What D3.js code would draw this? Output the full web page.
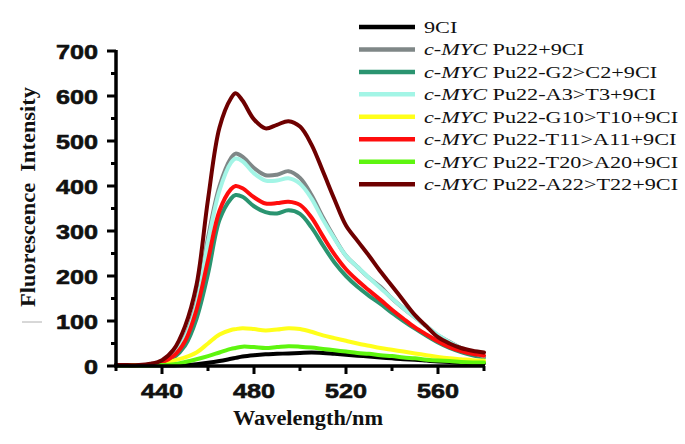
<!DOCTYPE html>
<html><head><meta charset="utf-8">
<script src="https://cdn.jsdelivr.net/npm/d3@7"></script>
<style>body{margin:0;background:#fff}svg{display:block}</style>
</head><body>
<svg id="c" width="685" height="444"></svg>
<script>
const wavelengths = [420,425,430,435,440,445,450,455,460,465,470,472,475,480,485,490,495,500,505,510,515,520,525,530,535,540,545,550,555,560,565,570,575,580];
const s9CI    = [1,1,1,1,1,1,2,4,7,11,16,18,21,24,26,27,28,29,30,29,27,25,23,21,19,17,15,14,12,10,9,7,6,6];
const sPu22   = [2,2,2,3,8,25,65,140,285,400,462,472,465,440,424,425,433,418,380,330,285,245,220,196,176,150,128,108,88,68,54,40,30,21];
const sG2C2   = [2,2,2,3,6,18,45,105,205,325,372,380,376,355,342,339,346,338,308,268,230,200,176,156,138,118,100,83,67,52,40,31,24,19];
const sA3T3   = [2,2,2,3,8,24,62,135,275,390,452,461,455,428,412,412,417,405,372,325,283,245,220,196,173,150,128,108,88,69,53,40,30,22];
const sG10T10 = [2,2,2,3,7,12,19,30,50,70,80,82,84,82,79,81,84,82,76,68,62,56,50,45,40,36,32,28,24,20,17,15,13,12];
const sT11A11 = [2,2,2,3,8,22,55,125,235,345,393,400,395,375,361,362,365,358,330,288,248,215,190,168,147,125,105,86,70,55,42,33,27,23];
const sT20A20 = [1,1,1,1,2,4,9,15,22,30,38,40,43,42,40,42,44,43,41,38,35,32,29,27,24,22,19,17,14,12,11,9,8,8];
const sA22T22 = [2,2,2,5,13,36,88,180,370,530,595,606,590,548,528,536,544,532,492,432,370,312,278,245,210,178,145,113,88,64,50,40,34,30];

const seriesNames = ["9CI","Pu22+9CI","Pu22-G2>C2+9CI","Pu22-A3>T3+9CI","Pu22-G10>T10+9CI","Pu22-T11>A11+9CI","Pu22-T20>A20+9CI","Pu22-A22>T22+9CI"];
const seriesItalic = [false,true,true,true,true,true,true,true];
const seriesColors = ["#000000","#7f8787","#2a9470","#a3f5e6","#ffff1a","#ff0d0d","#5ef50f","#6e0000"];
const seriesValues = [s9CI,sPu22,sG2C2,sA3T3,sG10T10,sT11A11,sT20A20,sA22T22];

const xMajorTicks = [440,480,520,560];
const xMinorTicks = [420,460,500,540,580];
const yMajorTicks = [0,100,200,300,400,500,600,700];
const yMinorTicks = [50,150,250,350,450,550,650];

const svg = d3.select("#c");
const x = d3.scaleLinear().domain([420,580]).range([116,484]);
const y = d3.scaleLinear().domain([0,700]).range([366,51]);

// lines
const line = d3.line().x((d,i)=>x(wavelengths[i])).y(d=>y(d)).curve(d3.curveCatmullRom.alpha(0.5));
seriesValues.forEach((vals,k)=>{
  svg.append("path").attr("d",line(vals)).attr("fill","none")
    .attr("stroke",seriesColors[k]).attr("stroke-width",4).attr("stroke-linejoin","round").attr("stroke-linecap","round");
});

// y axis
const yAxis = svg.append("g");
yAxis.append("line").attr("x1",116).attr("x2",116).attr("y1",y(700)-1).attr("y2",y(0)+1.5).attr("stroke","#000").attr("stroke-width",3.5);
yMajorTicks.forEach(v=>{
  yAxis.append("line").attr("x1",107).attr("x2",116).attr("y1",y(v)).attr("y2",y(v)).attr("stroke","#000").attr("stroke-width",3);
  yAxis.append("text").attr("transform",`translate(98,${y(v)+7.5}) scale(1.2,1)`).attr("text-anchor","end")
    .attr("font-family","Liberation Sans, Arial, sans-serif").attr("font-weight","bold").attr("font-size",21)
    .attr("fill","#111").attr("stroke","#111").attr("stroke-width",0.6).text(v);
});
yMinorTicks.forEach(v=>{
  yAxis.append("line").attr("x1",111).attr("x2",116).attr("y1",y(v)).attr("y2",y(v)).attr("stroke","#000").attr("stroke-width",3);
});

// x axis
const xAxis = svg.append("g");
xAxis.append("line").attr("x1",114.5).attr("x2",x(580)+1).attr("y1",366).attr("y2",366).attr("stroke","#000").attr("stroke-width",3.5);
xMajorTicks.forEach(v=>{
  xAxis.append("line").attr("x1",x(v)).attr("x2",x(v)).attr("y1",366).attr("y2",374).attr("stroke","#000").attr("stroke-width",3);
  xAxis.append("text").attr("transform",`translate(${x(v)},398) scale(1.2,1)`).attr("text-anchor","middle")
    .attr("font-family","Liberation Sans, Arial, sans-serif").attr("font-weight","bold").attr("font-size",21)
    .attr("fill","#111").attr("stroke","#111").attr("stroke-width",0.6).text(v);
});
xMinorTicks.forEach(v=>{
  xAxis.append("line").attr("x1",x(v)).attr("x2",x(v)).attr("y1",366).attr("y2",371).attr("stroke","#000").attr("stroke-width",3);
});

// axis titles
svg.append("text").attr("transform","translate(35,197) rotate(-90)").attr("text-anchor","middle")
  .attr("font-family","Liberation Serif, Times New Roman, serif").attr("font-weight","bold").attr("font-size",20)
  .attr("textLength",220).attr("lengthAdjust","spacingAndGlyphs").attr("fill","#111").attr("xml:space","preserve").text("Fluorescence  Intensity");
svg.append("text").attr("x",308).attr("y",425).attr("text-anchor","middle")
  .attr("font-family","Liberation Serif, Times New Roman, serif").attr("font-weight","bold").attr("font-size",21)
  .attr("textLength",150).attr("lengthAdjust","spacingAndGlyphs").attr("fill","#111").text("Wavelength/nm");

// small grey mark
svg.append("line").attr("x1",22).attr("x2",42).attr("y1",322).attr("y2",322).attr("stroke","#b0b0b0").attr("stroke-width",1);

// legend
const legY0 = 27, legDy = 22.45;
seriesNames.forEach((name,k)=>{
  const yy = legY0 + k*legDy;
  svg.append("line").attr("x1",359).attr("x2",415).attr("y1",yy).attr("y2",yy).attr("stroke",seriesColors[k]).attr("stroke-width",4.5);
  const t = svg.append("text").attr("transform",`translate(424,${yy+6}) scale(1.27,1)`)
    .attr("font-family","Liberation Serif, Times New Roman, serif").attr("font-size",17.5).attr("fill","#111");
  if (seriesItalic[k]) {
    t.append("tspan").attr("font-style","italic").text("c-MYC");
    t.append("tspan").text(" " + name);
  } else {
    t.text(name);
  }
});
</script>
</body></html>
